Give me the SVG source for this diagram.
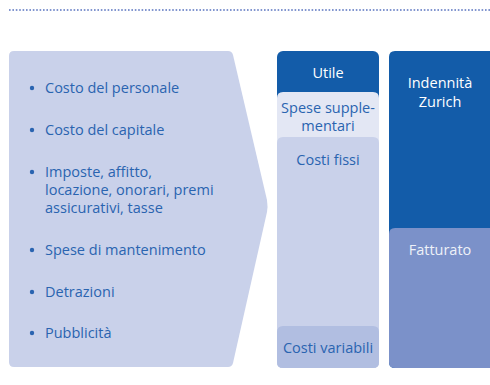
<svg xmlns="http://www.w3.org/2000/svg" width="490" height="385" viewBox="0 0 490 385">
<style>
text{font-family:"Open Sans","Noto Sans","Liberation Sans",sans-serif;font-size:14.5px}
.blue{fill:#2a64b0}
.white{fill:#ffffff}
.c{text-anchor:middle}
</style>
<rect width="490" height="385" fill="#ffffff"/>
<line x1="9" y1="10" x2="490" y2="10" stroke="#8195cf" stroke-width="2" stroke-dasharray="1.6 1.8"/>
<g id="costs-panel">
<path d="M14 51 H228 Q232 51 233 55 L267 200 Q268 207 267 212 L233 363 Q232 367 228 367 H14 Q9 367 9 362 V56 Q9 51 14 51 Z" fill="#c9d1ea"/>
<circle cx="32" cy="88" r="2.2" fill="#2a64b0"/>
<text class="blue" x="45" y="93">Costo del personale</text>
<circle cx="32" cy="130" r="2.2" fill="#2a64b0"/>
<text class="blue" x="45" y="135">Costo del capitale</text>
<circle cx="32" cy="172" r="2.2" fill="#2a64b0"/>
<text class="blue" x="45" y="177">Imposte, affitto,</text>
<text class="blue" x="45" y="195">locazione, onorari, premi</text>
<text class="blue" x="45" y="213">assicurativi, tasse</text>
<circle cx="32" cy="250" r="2.2" fill="#2a64b0"/>
<text class="blue" x="45" y="255">Spese di mantenimento</text>
<circle cx="32" cy="292" r="2.2" fill="#2a64b0"/>
<text class="blue" x="45" y="297">Detrazioni</text>
<circle cx="32" cy="333" r="2.2" fill="#2a64b0"/>
<text class="blue" x="45" y="338">Pubblicità</text>
</g>
<g id="utile">
<rect x="277" y="51" width="102" height="317" rx="6" fill="#135ca9"/>
<text class="white c" x="328" y="78">Utile</text>
</g>
<g id="spese-supplementari">
<path d="M277 98 Q277 92 283 92 H373 Q379 92 379 98 V362 Q379 368 373 368 H283 Q277 368 277 362 Z" fill="#e3e7f4"/>
<text class="blue c" x="328" y="113">Spese supple-</text>
<text class="blue c" x="328" y="131">mentari</text>
</g>
<g id="costi-fissi">
<path d="M277 143 Q277 137 283 137 H373 Q379 137 379 143 V362 Q379 368 373 368 H283 Q277 368 277 362 Z" fill="#c9d1ea"/>
<text class="blue c" x="328" y="165">Costi fissi</text>
</g>
<g id="costi-variabili">
<path d="M277 332 Q277 326 283 326 H373 Q379 326 379 332 V362 Q379 368 373 368 H283 Q277 368 277 362 Z" fill="#b1bee1"/>
<text class="blue c" x="328" y="353">Costi variabili</text>
</g>
<g id="indennita-zurich">
<path d="M389 57 Q389 51 395 51 H490 V368 H395 Q389 368 389 362 Z" fill="#135ca9"/>
<text class="white c" x="440" y="88">Indennità</text>
<text class="white c" x="440" y="107">Zurich</text>
</g>
<g id="fatturato">
<path d="M389 234 Q389 228 395 228 H490 V368 H395 Q389 368 389 362 Z" fill="#7b91c9"/>
<text class="c" x="440" y="255" fill="#eef1f8">Fatturato</text>
</g>
<g id="connectors"></g>
</svg>
